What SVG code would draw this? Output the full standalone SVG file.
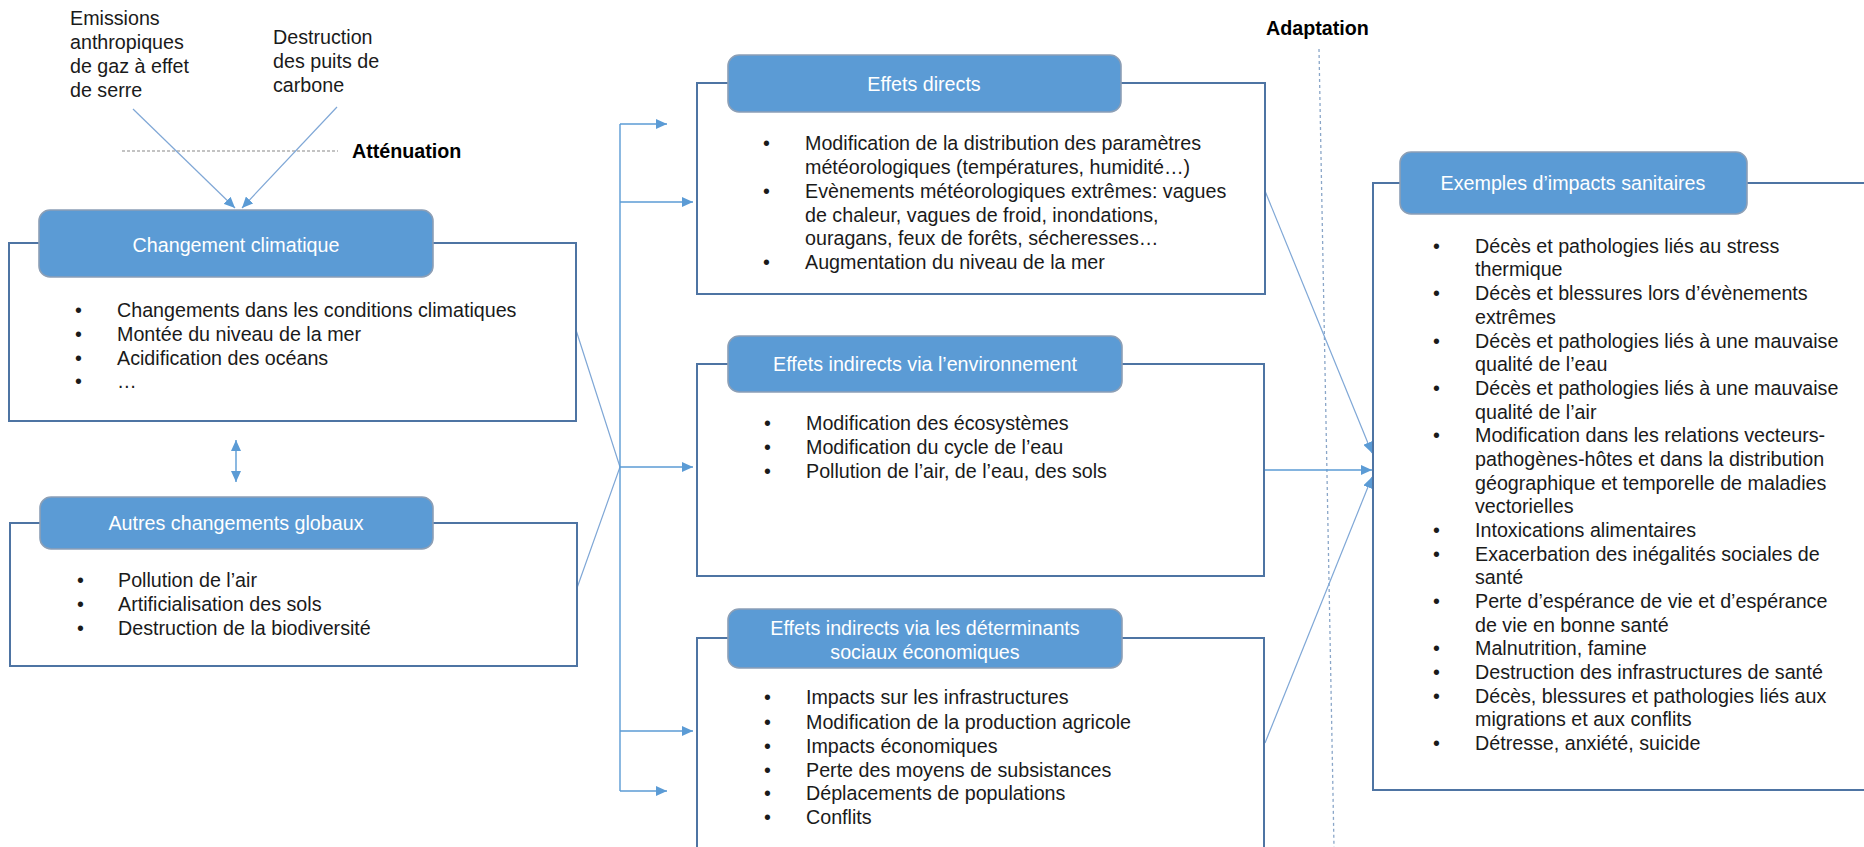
<svg xmlns="http://www.w3.org/2000/svg" width="1864" height="847" viewBox="0 0 1864 847">
<style>
text{font-family:"Liberation Sans",Arial,sans-serif;font-size:19.7px;fill:#1a1a1a}
.hd{fill:#5b9bd5;stroke:#8c9fb6;stroke-width:1.6}
.body{fill:#fff;stroke:#4e74a3;stroke-width:2}
.ht{fill:#fff;text-anchor:middle}
.b{font-weight:bold;fill:#000}
.con{stroke:#5b9bd5;stroke-width:1.4;fill:none}
.thin{stroke:#7fa7d6;stroke-width:1.2;fill:none}
</style>
<defs>
<marker id="ah" markerUnits="userSpaceOnUse" markerWidth="12" markerHeight="10" refX="11" refY="5" orient="auto-start-reverse">
<path d="M0,0 L11,5 L0,10 z" fill="#5b9bd5"/>
</marker>
</defs>
<rect width="1864" height="847" fill="#fff"/>

<g id="labels">
<text x="70" y="25">Emissions</text>
<text x="70" y="49">anthropiques</text>
<text x="70" y="73">de gaz à effet</text>
<text x="70" y="97">de serre</text>
<text x="273" y="44">Destruction</text>
<text x="273" y="68">des puits de</text>
<text x="273" y="92">carbone</text>
<line x1="122" y1="151" x2="338" y2="151" stroke="#888" stroke-width="1.2" stroke-dasharray="3,2"/>
<text class="b" x="352" y="158">Atténuation</text>
<text class="b" x="1266" y="35">Adaptation</text>
<line x1="1319" y1="49" x2="1334" y2="847" stroke="#8aa6c8" stroke-width="1.3" stroke-dasharray="3,3"/>
</g>

<g id="connectors">
<line class="thin" x1="133" y1="109" x2="235" y2="208" marker-end="url(#ah)"/>
<line class="thin" x1="337" y1="107" x2="242" y2="208" marker-end="url(#ah)"/>
<line class="con" x1="236" y1="440" x2="236" y2="482" marker-start="url(#ah)" marker-end="url(#ah)"/>
<polyline class="thin" points="576,330 620,467 577,588"/>
<line class="con" x1="620" y1="124" x2="620" y2="791"/>
<line class="con" x1="620" y1="124" x2="667" y2="124" marker-end="url(#ah)"/>
<line class="con" x1="620" y1="202" x2="693" y2="202" marker-end="url(#ah)"/>
<line class="con" x1="620" y1="467" x2="693" y2="467" marker-end="url(#ah)"/>
<line class="con" x1="620" y1="731" x2="693" y2="731" marker-end="url(#ah)"/>
<line class="con" x1="620" y1="791" x2="667" y2="791" marker-end="url(#ah)"/>
<line class="thin" x1="1265" y1="191" x2="1372" y2="453" marker-end="url(#ah)"/>
<line class="con" x1="1265" y1="470" x2="1372" y2="470" marker-end="url(#ah)"/>
<line class="thin" x1="1265" y1="743" x2="1372" y2="477" marker-end="url(#ah)"/>
</g>

<g id="changement">
<rect class="body" x="9" y="243" width="567" height="178"/>
<rect class="hd" x="39" y="210" width="394" height="67" rx="11"/>
<text class="ht" x="236" y="252">Changement climatique</text>
<text x="75" y="317">•</text><text x="117" y="317">Changements dans les conditions climatiques</text>
<text x="75" y="341">•</text><text x="117" y="341">Montée du niveau de la mer</text>
<text x="75" y="365">•</text><text x="117" y="365">Acidification des océans</text>
<text x="75" y="388">•</text><text x="117" y="388">…</text>
</g>

<g id="autres">
<rect class="body" x="10" y="523" width="567" height="143"/>
<rect class="hd" x="40" y="497" width="393" height="52" rx="11"/>
<text class="ht" x="236" y="530">Autres changements globaux</text>
<text x="77" y="587">•</text><text x="118" y="587">Pollution de l’air</text>
<text x="77" y="611">•</text><text x="118" y="611">Artificialisation des sols</text>
<text x="77" y="635">•</text><text x="118" y="635">Destruction de la biodiversité</text>
</g>

<g id="directs">
<rect class="body" x="697" y="83" width="568" height="211"/>
<rect class="hd" x="728" y="55" width="393" height="57" rx="11"/>
<text class="ht" x="924" y="91">Effets directs</text>
<text x="763" y="150">•</text><text x="805" y="150">Modification de la distribution des paramètres</text>
<text x="805" y="174">météorologiques (températures, humidité…)</text>
<text x="763" y="198">•</text><text x="805" y="198">Evènements météorologiques extrêmes: vagues</text>
<text x="805" y="222">de chaleur, vagues de froid, inondations,</text>
<text x="805" y="245">ouragans, feux de forêts, sécheresses…</text>
<text x="763" y="269">•</text><text x="805" y="269">Augmentation du niveau de la mer</text>
</g>

<g id="environnement">
<rect class="body" x="697" y="364" width="567" height="212"/>
<rect class="hd" x="728" y="336" width="394" height="56" rx="11"/>
<text class="ht" x="925" y="371">Effets indirects via l’environnement</text>
<text x="764" y="430">•</text><text x="806" y="430">Modification des écosystèmes</text>
<text x="764" y="454">•</text><text x="806" y="454">Modification du cycle de l’eau</text>
<text x="764" y="478">•</text><text x="806" y="478">Pollution de l’air, de l’eau, des sols</text>
</g>

<g id="determinants">
<rect class="body" x="697" y="638" width="567" height="230"/>
<rect class="hd" x="728" y="609" width="394" height="59" rx="11"/>
<text class="ht" x="925" y="635">Effets indirects via les déterminants</text>
<text class="ht" x="925" y="659">sociaux économiques</text>
<text x="764" y="704">•</text><text x="806" y="704">Impacts sur les infrastructures</text>
<text x="764" y="729">•</text><text x="806" y="729">Modification de la production agricole</text>
<text x="764" y="753">•</text><text x="806" y="753">Impacts économiques</text>
<text x="764" y="777">•</text><text x="806" y="777">Perte des moyens de subsistances</text>
<text x="764" y="800">•</text><text x="806" y="800">Déplacements de populations</text>
<text x="764" y="824">•</text><text x="806" y="824">Conflits</text>
</g>

<g id="impacts">
<rect class="body" x="1373" y="183" width="520" height="607"/>
<rect class="hd" x="1400" y="152" width="347" height="62" rx="11"/>
<text class="ht" x="1573" y="190">Exemples d’impacts sanitaires</text>
<text x="1433" y="253">•</text><text x="1475" y="253">Décès et pathologies liés au stress</text>
<text x="1475" y="276">thermique</text>
<text x="1433" y="300">•</text><text x="1475" y="300">Décès et blessures lors d’évènements</text>
<text x="1475" y="324">extrêmes</text>
<text x="1433" y="348">•</text><text x="1475" y="348">Décès et pathologies liés à une mauvaise</text>
<text x="1475" y="371">qualité de l’eau</text>
<text x="1433" y="395">•</text><text x="1475" y="395">Décès et pathologies liés à une mauvaise</text>
<text x="1475" y="419">qualité de l’air</text>
<text x="1433" y="442">•</text><text x="1475" y="442">Modification dans les relations vecteurs-</text>
<text x="1475" y="466">pathogènes-hôtes et dans la distribution</text>
<text x="1475" y="490">géographique et temporelle de maladies</text>
<text x="1475" y="513">vectorielles</text>
<text x="1433" y="537">•</text><text x="1475" y="537">Intoxications alimentaires</text>
<text x="1433" y="561">•</text><text x="1475" y="561">Exacerbation des inégalités sociales de</text>
<text x="1475" y="584">santé</text>
<text x="1433" y="608">•</text><text x="1475" y="608">Perte d’espérance de vie et d’espérance</text>
<text x="1475" y="632">de vie en bonne santé</text>
<text x="1433" y="655">•</text><text x="1475" y="655">Malnutrition, famine</text>
<text x="1433" y="679">•</text><text x="1475" y="679">Destruction des infrastructures de santé</text>
<text x="1433" y="703">•</text><text x="1475" y="703">Décès, blessures et pathologies liés aux</text>
<text x="1475" y="726">migrations et aux conflits</text>
<text x="1433" y="750">•</text><text x="1475" y="750">Détresse, anxiété, suicide</text>
</g>
</svg>
